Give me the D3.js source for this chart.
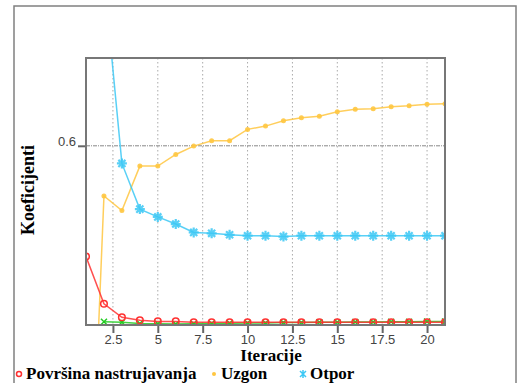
<!DOCTYPE html>
<html><head><meta charset="utf-8">
<script src="https://cdn.jsdelivr.net/npm/d3@7"></script>
<style>body{margin:0;background:#fff}svg{display:block}</style>
</head><body>
<svg id="c" width="517" height="383"></svg>
<script>
const iterations = [1,2,3,4,5,6,7,8,9,10,11,12,13,14,15,16,17,18,19,20,21];
const povrsina = [0.229,0.071,0.026,0.016,0.012,0.012,0.009,0.009,0.009,0.009,0.009,0.009,0.009,0.009,0.009,0.009,0.009,0.009,0.009,0.009,0.009];
const uzgon = [-1.04,0.432,0.383,0.532,0.532,0.571,0.599,0.617,0.617,0.655,0.666,0.684,0.694,0.699,0.714,0.722,0.724,0.731,0.734,0.739,0.741];
const otpor = [null,1.17,0.541,0.388,0.362,0.338,0.310,0.307,0.302,0.299,0.299,0.296,0.299,0.299,0.299,0.299,0.299,0.299,0.299,0.299,0.299];
const ostalo = [null,0.011,0.009,0.005,0.004,0.003,0.004,0.005,0.006,0.007,0.007,0.008,0.008,0.009,0.009,0.010,0.010,0.011,0.011,0.012,0.012];
const xTicks = [2.5,5,7.5,10,12.5,15,17.5,20];
const yTicks = [0.6];
const legendLabels = ["Površina nastrujavanja","Uzgon","Otpor"];

const svg = d3.select("#c");
const L=86,R=445,T=58,B=325;
const x = d3.scaleLinear().domain([1,21]).range([L,R]);
const y = d3.scaleLinear().domain([0,0.894]).range([B,T]);

// outer frame
svg.append("rect").attr("x",14).attr("y",6).attr("width",502).attr("height",400)
  .attr("fill","none").attr("stroke","#808080").attr("stroke-width",1.5);

// grid
const g = svg.append("g");
g.selectAll(".vg").data(xTicks).join("line")
  .attr("x1",d=>x(d)).attr("x2",d=>x(d)).attr("y1",T).attr("y2",B)
  .attr("stroke","#aaa").attr("stroke-width",1).attr("stroke-dasharray","1.5,2.5");
g.selectAll(".hg").data(yTicks).join("line")
  .attr("x1",L).attr("x2",R).attr("y1",d=>y(d)).attr("y2",d=>y(d))
  .attr("stroke","#888").attr("stroke-width",1).attr("stroke-dasharray","4,1,1,1");

// axes
const xAxis = d3.axisBottom(x).tickValues(xTicks).tickFormat(d3.format("")).tickSize(8).tickPadding(2);
const xg = svg.append("g").attr("transform",`translate(0,${B})`).call(xAxis);
xg.select(".domain").remove();
xg.selectAll("line").attr("stroke","#666").attr("stroke-width",2);
xg.selectAll("text").attr("font-family","Liberation Sans, Arial, sans-serif").attr("font-size",13).attr("fill","#444");

const yAxis = d3.axisLeft(y).tickValues(yTicks).tickFormat(d3.format(".1f")).tickSize(8).tickPadding(2);
const yg = svg.append("g").attr("transform",`translate(${L},0)`).call(yAxis);
yg.select(".domain").remove();
yg.selectAll("line").attr("stroke","#666").attr("stroke-width",2);
yg.selectAll("text").attr("font-family","Liberation Sans, Arial, sans-serif").attr("font-size",13).attr("fill","#444").attr("dy","-0.05em");

// clip
svg.append("clipPath").attr("id","clip").append("rect").attr("x",L).attr("y",T).attr("width",R-L).attr("height",B-T);
const plot = svg.append("g").attr("clip-path","url(#clip)");

function series(vals,color,marker){
  const pts = iterations.map((d,i)=>({x:d,y:vals[i]})).filter(p=>p.y!==null);
  const line = d3.line().x(p=>x(p.x)).y(p=>y(p.y));
  plot.append("path").datum(pts).attr("d",line).attr("fill","none")
    .attr("stroke",color).attr("stroke-width",1.5).attr("stroke-opacity",0.85);
  const mg = plot.append("g");
  pts.forEach(p=>{
    const cx=x(p.x), cy=y(p.y);
    if(marker==="circle"){
      mg.append("circle").attr("cx",cx).attr("cy",cy).attr("r",3.3).attr("fill","none").attr("stroke",color).attr("stroke-width",1.5);
    } else if(marker==="cross"){
      mg.append("path").attr("d",`M${cx-3},${cy-3}L${cx+3},${cy+3}M${cx-3},${cy+3}L${cx+3},${cy-3}`).attr("stroke",color).attr("stroke-width",1.5);
    } else if(marker==="dot"){
      mg.append("circle").attr("cx",cx).attr("cy",cy).attr("r",2.5).attr("fill",color).attr("opacity",0.9);
    } else if(marker==="star"){
      const r=5;
      let d="";
      for(let k=0;k<4;k++){const a=k*Math.PI/4; d+=`M${cx-r*Math.cos(a)},${cy-r*Math.sin(a)}L${cx+r*Math.cos(a)},${cy+r*Math.sin(a)}`;}
      mg.append("path").attr("d",d).attr("stroke",color).attr("stroke-width",2.2).attr("opacity",0.85);
    }
  });
}
series(ostalo,"#22cc22","cross");
series(uzgon,"#ffc640","dot");
series(otpor,"#3cc8f5","star");
series(povrsina,"#ff3030","circle");

// plot frame
svg.append("rect").attr("x",L).attr("y",T).attr("width",R-L).attr("height",B-T)
  .attr("fill","none").attr("stroke","#777").attr("stroke-width",2);

// titles
svg.append("text").attr("x",271).attr("y",361).attr("text-anchor","middle")
  .attr("font-family","Liberation Serif, Times New Roman, serif").attr("font-weight","bold").attr("font-size",17).text("Iteracije");
svg.append("text").attr("transform","translate(34,190) rotate(-90)").attr("text-anchor","middle")
  .attr("font-family","Liberation Serif, Times New Roman, serif").attr("font-weight","bold").attr("font-size",18).text("Koeficijenti");

// legend
const legX=[19,214,303];
const legColors=["#ff3030","#ffc640","#3cc8f5"];
legendLabels.forEach((t,i)=>{
  const lx=legX[i], ly=374;
  if(i===0) svg.append("circle").attr("cx",lx).attr("cy",ly).attr("r",2.5).attr("fill","none").attr("stroke",legColors[i]).attr("stroke-width",1.5);
  else if(i===1) svg.append("circle").attr("cx",lx).attr("cy",ly).attr("r",2).attr("fill",legColors[i]);
  else svg.append("path").attr("d",`M${lx-3},${ly-3}L${lx+3},${ly+3}M${lx-3},${ly+3}L${lx+3},${ly-3}M${lx},${ly-4}L${lx},${ly+4}`).attr("stroke",legColors[i]).attr("stroke-width",1.5);
  svg.append("text").attr("x",lx+7).attr("y",379)
    .attr("font-family","Liberation Serif, Times New Roman, serif").attr("font-weight","bold").attr("font-size",17).text(t);
});
</script>
</body></html>
